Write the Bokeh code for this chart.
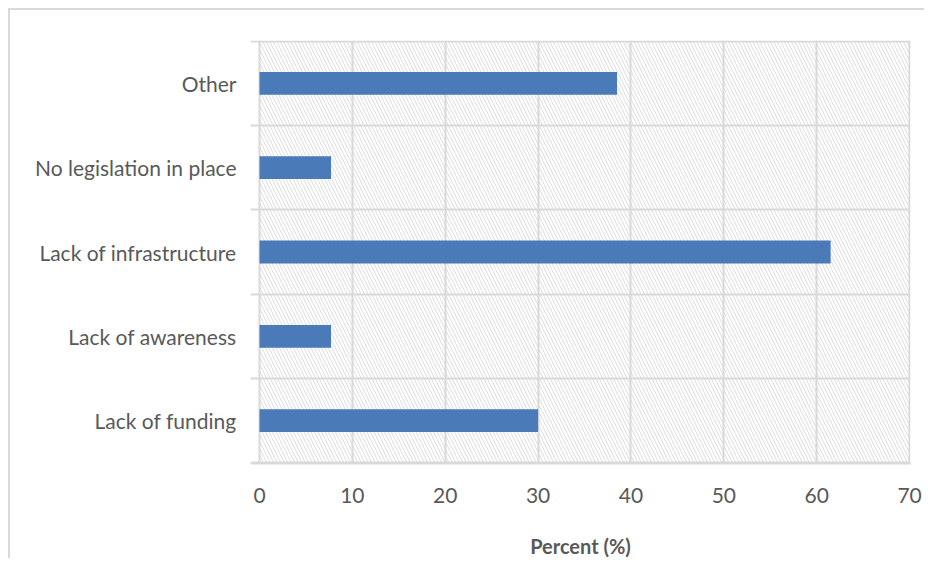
from bokeh.plotting import figure
from bokeh.models import Range1d, FixedTicker
from bokeh.embed import file_html
from bokeh.resources import INLINE

categories = ["Lack of funding", "Lack of awareness", "Lack of infrastructure",
              "No legislation in place", "Other"]
values = [30.0, 7.7, 61.5, 7.7, 38.5]
x_ticks = [0, 10, 20, 30, 40, 50, 60, 70]

FONT = "Lato"
GREY = "#d9d9d9"
TXT = "#595959"

n = len(categories)
pos = [i + 0.5 for i in range(n)]

p = figure(width=916, height=550, output_backend="svg", toolbar_location=None,
           x_range=Range1d(-0.97, 70.1), y_range=Range1d(-0.01, n + 0.01),
           min_border_left=240, min_border_right=16, min_border_top=30,
           min_border_bottom=88)
p.styles = {"border-left": "2px solid #d9d9d9", "border-top": "2px solid #d9d9d9",
            "margin-left": "8px", "margin-top": "8px"}
p.outline_line_color = None

# hatched plot area
p.quad(left=[0], right=[x_ticks[-1]], bottom=[0], top=[n], fill_color="white",
       line_color=None, hatch_pattern="\\", hatch_color="#dcdcdc",
       hatch_scale=7, hatch_weight=1, level="underlay")

p.hbar(y=pos, right=values, left=0, height=0.27, fill_color="#4a7ab7",
       line_color=None)

p.xgrid.ticker = FixedTicker(ticks=x_ticks)
p.xgrid.grid_line_color = GREY
p.xgrid.grid_line_width = 2
p.ygrid.ticker = FixedTicker(ticks=list(range(n + 1)))
p.ygrid.grid_line_color = GREY
p.ygrid.grid_line_width = 2

xa = p.xaxis[0]
xa.ticker = FixedTicker(ticks=x_ticks)
xa.axis_line_color = GREY
xa.axis_line_width = 2
xa.major_tick_line_color = None
xa.minor_tick_line_color = None
xa.major_label_text_font = FONT
xa.major_label_text_font_size = "21px"
xa.major_label_text_color = TXT
xa.major_label_standoff = 18
xa.axis_label = "Percent (%)"
xa.axis_label_text_font = FONT
xa.axis_label_text_font_size = "20px"
xa.axis_label_text_font_style = "bold"
xa.axis_label_text_color = TXT
xa.axis_label_standoff = 28

ya = p.yaxis[0]
ya.ticker = FixedTicker(ticks=pos)
ya.major_label_overrides = {v: c for v, c in zip(pos, categories)}
ya.axis_line_color = None
ya.major_tick_line_color = None
ya.minor_tick_line_color = None
ya.major_label_text_font = FONT
ya.major_label_text_font_size = "21px"
ya.major_label_text_color = TXT
ya.major_label_standoff = 8

open("out.html", "w").write(file_html(p, INLINE))
